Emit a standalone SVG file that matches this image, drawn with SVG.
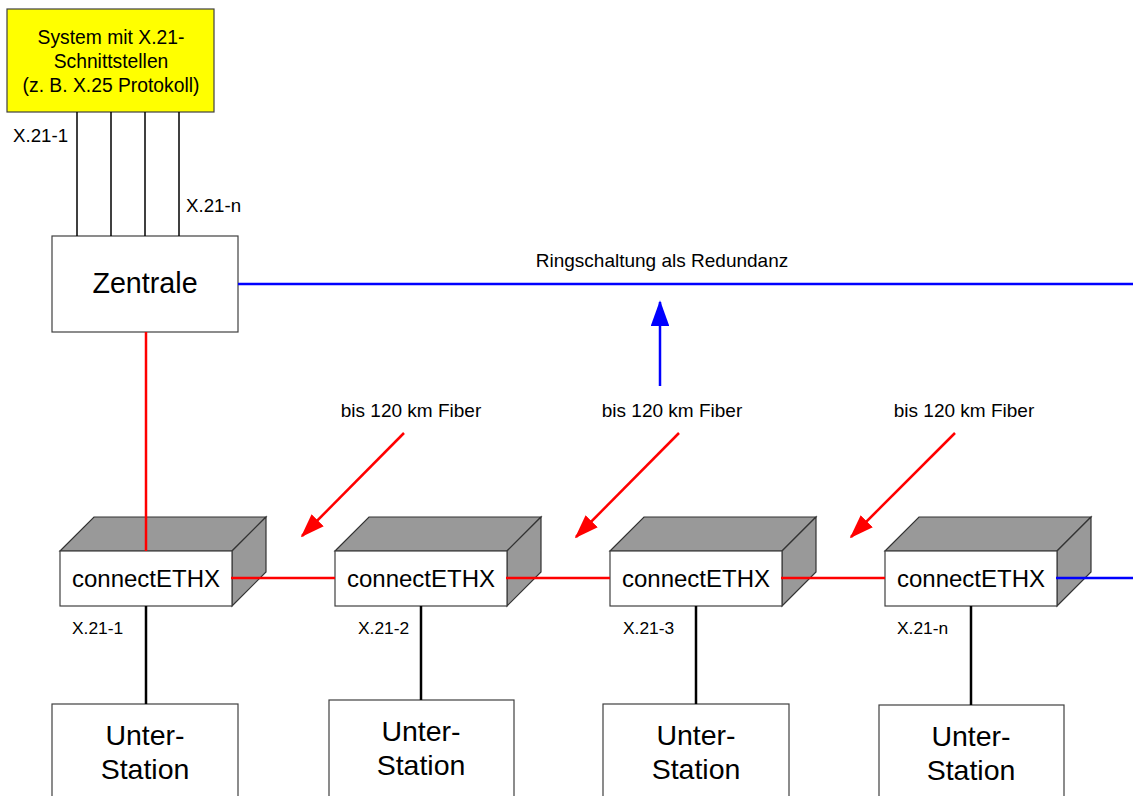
<svg xmlns="http://www.w3.org/2000/svg" width="1133" height="796" viewBox="0 0 1133 796">
<style>
text{font-family:"Liberation Sans",Arial,sans-serif;fill:#000}
.box{fill:#fff;stroke:#404040;stroke-width:1.2}
.top{fill:#999;stroke:#333;stroke-width:1.2}
.red{stroke:#f00;stroke-width:2.5;fill:none}
.blue{stroke:#00f;stroke-width:2.5;fill:none}
.blk{stroke:#000;stroke-width:2.5;fill:none}
.thin{stroke:#000;stroke-width:1.5;fill:none}
.big{font-size:28.5px;text-anchor:middle}
.dev{font-size:24px;text-anchor:middle}
.lbl{font-size:19px}
.sys{font-size:19.3px;text-anchor:middle}
.xl{font-size:18.7px}
.xb{font-size:17.4px}
</style>
<defs>
<marker id="ar" viewBox="0 0 14 10" refX="13" refY="5" markerWidth="9.6" markerHeight="7.2" markerUnits="strokeWidth" orient="auto"><path d="M0,0 L14,5 L0,10 z" fill="#f00"/></marker>
<marker id="ab" viewBox="0 0 14 10" refX="13" refY="5" markerWidth="10.4" markerHeight="7.4" markerUnits="strokeWidth" orient="auto"><path d="M0,0 L14,5 L0,10 z" fill="#00f"/></marker>
</defs>
<g id="system">
<rect x="7" y="9" width="207" height="103" fill="#ff0" stroke="#404040" stroke-width="1.2"/>
<text class="sys" x="111" y="44">System mit X.21-</text>
<text class="sys" x="111" y="68">Schnittstellen</text>
<text class="sys" x="111" y="92">(z. B. X.25 Protokoll)</text>
</g>
<g id="zentrale">
<rect class="box" x="52" y="236" width="186" height="96"/>
<text x="145" y="293" font-size="28.7" text-anchor="middle">Zentrale</text>
</g>
<g id="dev1">
<path class="top" d="M60,551 L94,517 L266,517 L232,551 z"/>
<path class="top" d="M232,551 L266,517 L266,572 L232,606 z"/>
<rect class="box" x="60" y="551" width="172" height="55"/>
<text class="dev" x="146" y="587">connectETHX</text>
</g>
<g id="dev2">
<path class="top" d="M335,551 L369,517 L541,517 L507,551 z"/>
<path class="top" d="M507,551 L541,517 L541,572 L507,606 z"/>
<rect class="box" x="335" y="551" width="172" height="55"/>
<text class="dev" x="421" y="587">connectETHX</text>
</g>
<g id="dev3">
<path class="top" d="M610,551 L644,517 L816,517 L782,551 z"/>
<path class="top" d="M782,551 L816,517 L816,572 L782,606 z"/>
<rect class="box" x="610" y="551" width="172" height="55"/>
<text class="dev" x="696" y="587">connectETHX</text>
</g>
<g id="dev4">
<path class="top" d="M885,551 L919,517 L1091,517 L1057,551 z"/>
<path class="top" d="M1057,551 L1091,517 L1091,572 L1057,606 z"/>
<rect class="box" x="885" y="551" width="172" height="55"/>
<text class="dev" x="971" y="587">connectETHX</text>
</g>
<g id="station1">
<rect class="box" x="52" y="704" width="186" height="110"/>
<text class="big" x="145" y="745">Unter-</text>
<text class="big" x="145" y="779">Station</text>
</g>
<g id="station2">
<rect class="box" x="329" y="700" width="185" height="110"/>
<text class="big" x="421" y="741">Unter-</text>
<text class="big" x="421" y="775">Station</text>
</g>
<g id="station3">
<rect class="box" x="603" y="704" width="186" height="110"/>
<text class="big" x="696" y="745">Unter-</text>
<text class="big" x="696" y="779">Station</text>
</g>
<g id="station4">
<rect class="box" x="879" y="705" width="185" height="110"/>
<text class="big" x="971" y="746">Unter-</text>
<text class="big" x="971" y="780">Station</text>
</g>
<g id="connectors">
<line class="thin" x1="77" y1="112" x2="77" y2="236"/>
<line class="thin" x1="111" y1="112" x2="111" y2="236"/>
<line class="thin" x1="145" y1="112" x2="145" y2="236"/>
<line class="thin" x1="179" y1="112" x2="179" y2="236"/>
<line class="blue" x1="238" y1="284" x2="1133" y2="284"/>
<line class="red" x1="146" y1="332" x2="146" y2="551"/>
<line class="red" x1="231" y1="578" x2="335" y2="578"/>
<line class="red" x1="506" y1="578" x2="610" y2="578"/>
<line class="red" x1="781" y1="578" x2="885" y2="578"/>
<line class="blue" x1="1056" y1="578" x2="1133" y2="578"/>
<line class="blk" x1="146" y1="606" x2="146" y2="704"/>
<line class="blk" x1="421" y1="606" x2="421" y2="700"/>
<line class="blk" x1="696" y1="606" x2="696" y2="704"/>
<line class="blk" x1="971" y1="606" x2="971" y2="705"/>
<line class="blue" x1="660" y1="386" x2="660" y2="302" marker-end="url(#ab)"/>
<line class="red" x1="404" y1="433" x2="302" y2="536" marker-end="url(#ar)"/>
<line class="red" x1="679" y1="433" x2="576" y2="537" marker-end="url(#ar)"/>
<line class="red" x1="955" y1="433" x2="851" y2="537" marker-end="url(#ar)"/>
</g>
<g id="labels">
<text class="xl" x="13" y="142">X.21-1</text>
<text class="xl" x="186" y="212">X.21-n</text>
<text class="lbl" x="662" y="267" text-anchor="middle">Ringschaltung als Redundanz</text>
<text class="lbl" x="411" y="417" text-anchor="middle">bis 120 km Fiber</text>
<text class="lbl" x="672" y="417" text-anchor="middle">bis 120 km Fiber</text>
<text class="lbl" x="964" y="417" text-anchor="middle">bis 120 km Fiber</text>
<text class="xb" x="72" y="634">X.21-1</text>
<text class="xb" x="358" y="634">X.21-2</text>
<text class="xb" x="623" y="634">X.21-3</text>
<text class="xb" x="897" y="634">X.21-n</text>
</g>
</svg>
